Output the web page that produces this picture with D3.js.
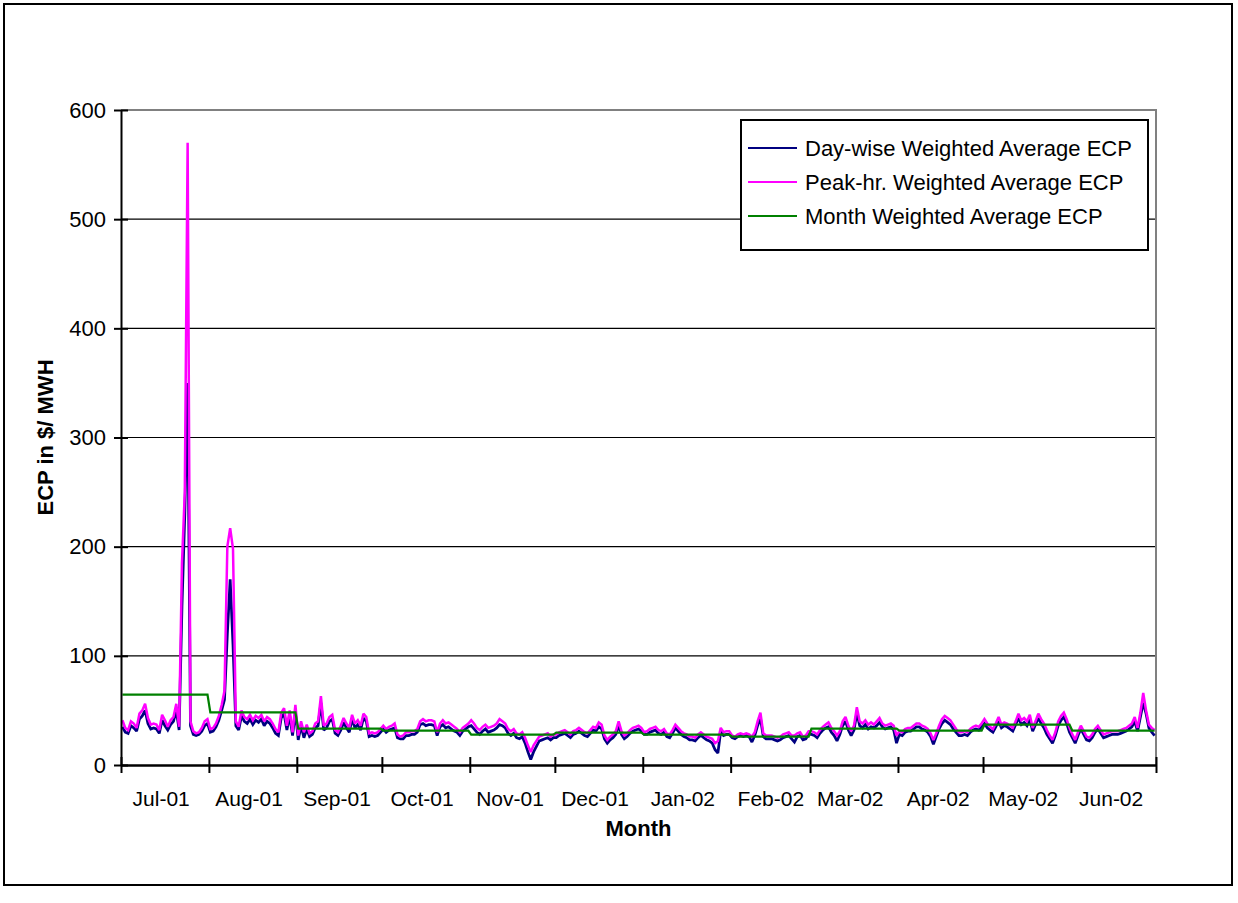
<!DOCTYPE html>
<html>
<head>
<meta charset="utf-8">
<script src="https://cdn.jsdelivr.net/npm/d3@7"></script>
<style>
  html, body { margin: 0; padding: 0; background: #fff; }
  svg { display: block; font-family: "Liberation Sans", Arial, sans-serif; }
</style>
</head>
<body>
<svg id="chart" width="1238" height="903"></svg>
<script>
// ---- Data -------------------------------------------------------------
// Daily energy clearing price, 1 Jul 2001 .. 30 Jun 2002 ($/MWH)

const seriesNames = [
  "Day-wise Weighted Average ECP",
  "Peak-hr. Weighted Average ECP",
  "Month Weighted Average ECP"
];

const yTicks = [0, 100, 200, 300, 400, 500, 600];

// Monthly weighted average, Jul-01 .. Jun-02
const monthAvg = [64.4, 48.1, 33.3, 31.4, 27.8, 29.6, 27.8, 26.0, 33.3, 31.4, 36.9, 31.4];

// Day-wise weighted average, one value per day
const dayWise = [
  // Jul
  35,30,29,36,34,31,42,45,50,38,33,34,33,29,41,36,32,37,40,50,32,145,230,350,36,28,27,28,31,36,38,
  // Aug
  30,31,35,41,50,60,120,170,110,36,32,45,40,38,42,37,41,39,42,36,40,38,34,29,27,43,47,32,45,27,49,
  // Sep
  23,36,25,33,26,28,34,36,57,32,34,40,42,29,27,32,39,34,30,42,34,37,32,43,40,26,27,26,27,30,
  // Oct
  33,30,32,33,34,25,24,24,27,27,28,28,30,37,38,36,37,37,36,27,35,37,34,35,33,31,30,27,31,33,35,
  // Nov
  36,33,30,28,31,33,30,31,32,34,37,36,34,29,27,29,25,24,26,20,12,5,12,17,22,23,24,25,23,25,
  // Dec
  25,27,28,29,27,25,28,29,31,29,27,26,29,32,31,35,33,24,20,23,25,28,36,28,24,26,29,31,32,33,31,
  // Jan
  28,28,30,31,32,29,28,30,26,25,29,34,31,28,26,25,23,23,22,25,27,25,23,22,20,14,11,31,27,28,28,
  // Feb
  25,24,26,27,26,27,26,21,27,36,43,26,24,24,24,23,22,23,25,26,27,24,21,26,27,23,24,28,
  // Mar
  28,27,25,29,32,34,35,30,27,22,28,36,40,32,27,32,48,36,34,37,33,35,34,36,39,35,33,34,35,32,20,
  // Apr
  28,27,30,31,31,33,35,35,33,32,30,26,19,26,33,38,41,39,37,33,30,27,27,28,27,30,32,33,32,35,
  // May
  38,34,32,30,35,40,34,36,35,33,31,37,43,37,39,36,42,31,37,43,38,34,28,24,20,27,36,41,44,38,30,
  // Jun
  25,20,27,33,28,23,22,25,30,33,29,25,26,27,28,28,28,29,30,31,33,35,40,31,44,57,47,34,30,27
];

// Peak-hour weighted average, one value per day
const peakHour = [
  // Jul
  41,34,32,40,38,34,47,50,56,43,37,38,37,32,46,41,35,41,44,56,35,185,250,570,40,31,29,30,34,40,42,
  // Aug
  33,34,38,45,55,68,200,217,198,40,35,50,44,42,46,41,45,43,46,40,44,42,38,33,30,48,52,36,50,30,55,
  // Sep
  27,40,30,37,29,31,38,40,63,36,38,44,46,32,30,36,43,38,34,46,38,41,36,47,44,29,30,29,30,33,
  // Oct
  36,33,35,36,38,28,26,27,30,30,31,31,33,40,42,40,41,41,40,30,38,41,38,39,37,35,33,30,34,36,38,
  // Nov
  41,38,34,32,35,37,34,35,36,38,42,40,38,33,31,33,29,28,30,25,18,12,18,22,26,27,28,29,26,28,
  // Dec
  28,30,31,32,30,28,31,32,34,32,30,29,32,35,34,39,37,27,23,26,28,31,40,31,27,29,32,34,35,36,34,
  // Jan
  30,31,33,34,35,32,31,33,29,28,32,37,34,31,29,28,26,26,25,28,30,28,26,25,24,20,22,34,30,31,31,
  // Feb
  27,26,28,29,28,29,28,26,30,40,48,29,27,27,27,26,25,26,28,29,30,27,27,29,30,26,27,31,
  // Mar
  31,30,28,32,35,37,39,34,31,27,31,40,44,36,31,36,53,40,38,41,37,39,37,40,43,38,36,37,38,36,27,
  // Apr
  31,30,33,34,34,36,38,38,36,35,33,29,23,29,36,42,45,43,41,37,33,30,30,31,30,33,35,36,35,38,
  // May
  42,38,35,33,38,44,37,39,38,36,34,40,47,41,43,40,46,34,40,47,42,38,32,27,23,30,40,45,48,42,34,
  // Jun
  28,23,30,36,31,26,25,28,33,36,32,28,29,30,31,31,31,32,33,34,36,38,44,34,48,66,50,37,34,32
];

const seriesColors = ["#000080", "#FF00FF", "#008000"];

// ---- Layout -----------------------------------------------------------
const plot = { left: 121, top: 110, right: 1156, bottom: 765 };
const fontSize = 22;

const startDate = new Date(2001, 6, 1);
const endDate = new Date(2002, 6, 1);
const days = d3.timeDay.range(startDate, endDate);
const months = d3.timeMonth.range(startDate, d3.timeDay.offset(endDate, 1));

const x = d3.scaleTime().domain([startDate, endDate]).range([plot.left, plot.right]);
const y = d3.scaleLinear().domain([0, 600]).range([plot.bottom, plot.top]);

// Daily rows built from the arrays above
const rows = days.map((d, i) => ({
  date: d3.timeHour.offset(d, 12),
  day: dayWise[i],
  peak: peakHour[i],
  month: monthAvg[(d.getFullYear() - 2001) * 12 + d.getMonth() - 6]
}));

const svg = d3.select("#chart");

// Outer frame
svg.append("rect")
  .attr("x", 4).attr("y", 4).attr("width", 1228).attr("height", 881)
  .attr("fill", "#fff").attr("stroke", "#000").attr("stroke-width", 2);

// Horizontal gridlines
svg.append("g").selectAll("line")
  .data(yTicks.filter(t => t > 0 && t < 600))
  .join("line")
  .attr("x1", plot.left).attr("x2", plot.right)
  .attr("y1", d => y(d)).attr("y2", d => y(d))
  .attr("stroke", "#000").attr("stroke-width", 1.2);

// Plot area top/right border (grey)
svg.append("path")
  .attr("d", `M${plot.left},${y(600)}H${plot.right}V${plot.bottom}`)
  .attr("fill", "none").attr("stroke", "#808080").attr("stroke-width", 2);

// Series lines
const lineOf = key => d3.line().x(d => x(d.date)).y(d => y(d[key]));
svg.append("defs").append("clipPath").attr("id", "plotClip")
  .append("rect").attr("x", plot.left).attr("y", plot.top - 2)
  .attr("width", plot.right - plot.left).attr("height", plot.bottom - plot.top + 2);

const lines = svg.append("g").attr("clip-path", "url(#plotClip)");
[["day", 2.75], ["peak", 2.5], ["month", 2.25]].forEach(([key, w], i) => {
  lines.append("path")
    .datum(rows)
    .attr("d", lineOf(key))
    .attr("fill", "none")
    .attr("stroke", seriesColors[i])
    .attr("stroke-width", w)
    .attr("stroke-linejoin", "miter")
    .attr("stroke-miterlimit", 2);
});

// Y axis
const yAxis = svg.append("g")
  .attr("transform", `translate(${plot.left},0)`)
  .call(d3.axisLeft(y).tickValues(yTicks).tickSize(7).tickSizeOuter(0).tickPadding(8));
yAxis.select(".domain").attr("stroke", "#000").attr("stroke-width", 2);
yAxis.selectAll(".tick line").attr("x1", 7).attr("stroke", "#000").attr("stroke-width", 2);
yAxis.selectAll(".tick text").attr("font-size", fontSize).attr("fill", "#000")
  .attr("font-family", "Liberation Sans, Arial, sans-serif");

// X axis: tick marks at month boundaries
const xAxis = svg.append("g")
  .attr("transform", `translate(0,${plot.bottom})`)
  .call(d3.axisBottom(x).tickValues(months).tickSize(8).tickSizeOuter(0).tickFormat(""));
xAxis.select(".domain").attr("stroke", "#000").attr("stroke-width", 2.5);
xAxis.selectAll(".tick line").attr("y1", -8).attr("stroke", "#000").attr("stroke-width", 2);

// X axis labels, placed two weeks into each month
const monthLabelDates = months.slice(0, 12).map(m => d3.timeDay.offset(m, 14));
const xLabels = svg.append("g")
  .attr("transform", `translate(0,${plot.bottom})`)
  .call(d3.axisBottom(x).tickValues(monthLabelDates).tickSize(0).tickPadding(26)
    .tickFormat(d3.timeFormat("%b-%y")));
xLabels.select(".domain").remove();
xLabels.selectAll(".tick text").attr("font-size", 21).attr("fill", "#000")
  .attr("font-family", "Liberation Sans, Arial, sans-serif");

// Axis titles
svg.append("text")
  .attr("transform", `translate(47,${(plot.top + plot.bottom) / 2}) rotate(-90)`)
  .attr("text-anchor", "middle").attr("dominant-baseline", "middle")
  .attr("font-size", fontSize).attr("font-weight", "bold")
  .text("ECP in $/ MWH");

svg.append("text")
  .attr("x", (plot.left + plot.right) / 2).attr("y", 836)
  .attr("text-anchor", "middle")
  .attr("font-size", fontSize).attr("font-weight", "bold")
  .text("Month");

// Legend
const legend = svg.append("g");
legend.append("rect")
  .attr("x", 741).attr("y", 120).attr("width", 407).attr("height", 130)
  .attr("fill", "#fff").attr("stroke", "#000").attr("stroke-width", 2);
const legendRowY = [148, 182, 216];
seriesNames.forEach((name, i) => {
  legend.append("line")
    .attr("x1", 748).attr("x2", 797)
    .attr("y1", legendRowY[i]).attr("y2", legendRowY[i])
    .attr("stroke", seriesColors[i]).attr("stroke-width", 2);
  legend.append("text")
    .attr("x", 805).attr("y", legendRowY[i])
    .attr("dy", "0.35em")
    .attr("font-size", fontSize).attr("fill", "#000")
    .text(name);
});
</script>
</body>
</html>
